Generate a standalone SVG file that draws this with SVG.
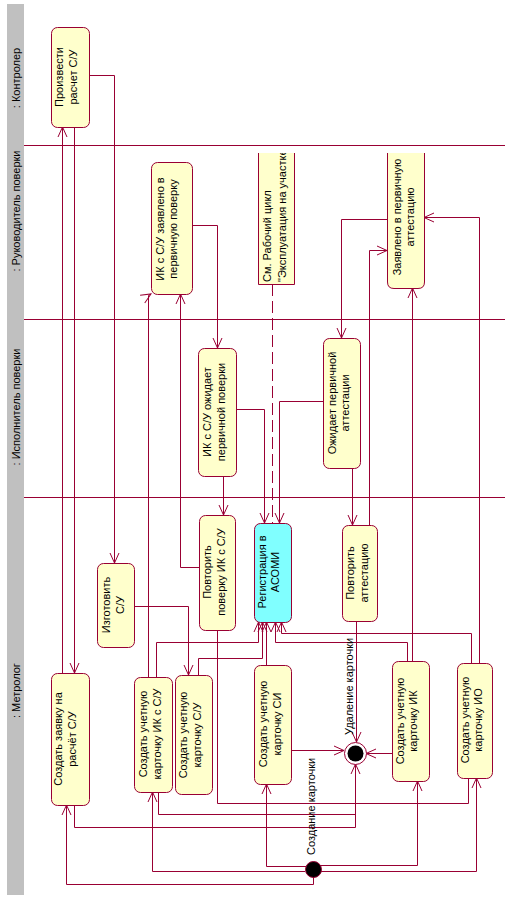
<svg xmlns="http://www.w3.org/2000/svg" width="505" height="900" viewBox="0 0 505 900">
<style>
.lane{fill:#C0C0C0;stroke:none}
.sep{stroke:#990033;stroke-width:1;fill:none}
.n rect{fill:#FFFFCC;stroke:#990033;stroke-width:1}
.n.cy rect{fill:#80FFFF}
text{font-family:"Liberation Sans",Arial,sans-serif;font-size:11px;fill:#000}
.c path{fill:none;stroke:#990033;stroke-width:1}
.c path.a{marker-end:url(#arr)}
.c path.d{stroke-dasharray:12 5}
</style>
<defs>
<marker id="arr" markerUnits="userSpaceOnUse" markerWidth="12" markerHeight="12" viewBox="0 0 12 12" refX="11" refY="6" orient="auto"><path d="M1,1.5 L11,6 L1,10.5" fill="none" stroke="#990033"/></marker>
<clipPath id="clipTop"><rect x="0" y="153" width="505" height="200"/></clipPath>
</defs>
<rect width="505" height="900" fill="#fff"/>
<g id="lanes">
<rect class="lane" x="7" y="4" width="17" height="891"/>
<path class="sep" d="M24,145.5 H505 M24,319.5 H505 M24,497.5 H505"/>
<text transform="translate(20,78) rotate(-90)" text-anchor="middle">: Контролер</text>
<text transform="translate(20,211) rotate(-90)" text-anchor="middle">: Руководитель поверки</text>
<text transform="translate(20,407) rotate(-90)" text-anchor="middle">: Исполнитель поверки</text>
<text transform="translate(20,718) rotate(-90)">: Метролог</text>
</g>
<g id="connectors" class="c">
<path class="a" d="M89,75.5 H114.5 V563"/>
<path class="a" d="M74.5,127 V673"/>
<path class="a" d="M62.5,673 V127"/>
<path class="a" d="M313.5,877 V884.5 H66.5 V805"/>
<path class="a" d="M74.5,805 V827.5 H355.5 V764"/>
<path class="a" d="M305,871.5 H152.5 V792"/>
<path class="a" d="M306,866.5 H266.5 V784"/>
<path d="M158.5,792 V814.5 H355.5 V827"/>
<path class="a" d="M148.5,677 V295.5 L151,294"/>
<path class="a" d="M156.5,677 V642.5 H258.5 V622"/>
<path class="a" d="M134,606.5 H188.5 V675"/>
<path class="a" d="M198.5,675 V658.5 H262.5 V622"/>
<path class="a" d="M266.5,665 V622"/>
<path class="a" d="M291,750.5 H344"/>
<path class="a" d="M392,753.5 H366"/>
<path class="a" d="M412.5,661 V288"/>
<path class="a" d="M407.5,661 V642.5 H275.5 V622"/>
<path class="a" d="M320,865.5 H417.5 V781"/>
<path class="a" d="M321,871.5 H476.5 V778"/>
<path class="a" d="M479.5,663 V217.5 H424"/>
<path class="a" d="M471.5,663 V633.5 H281.5 V622"/>
<path d="M217.5,630 V803.5 H468.5 V778"/>
<path class="a" d="M199,567.5 H180.5 V294"/>
<path class="a" d="M192,225.5 H217.5 V348"/>
<path class="a" d="M223.5,476 V515"/>
<path class="a" d="M236,409.5 H264.5 V523"/>
<path class="a" d="M323,401.5 H279.5 V523"/>
<path class="d" d="M272.5,284 V523"/>
<path class="a" d="M387,219.5 H341.5 V338"/>
<path class="a" d="M352.5,468 V525"/>
<path class="a" d="M369.5,525 V250.5 H387"/>
<path class="a" d="M356.5,621 V742"/>
<text transform="translate(315,855) rotate(-90)">Создание карточки</text>
<text transform="translate(353,735) rotate(-90)">Удаление карточки</text>
</g>
<g id="n_raschet" class="n">
<rect x="51.5" y="27.5" width="38" height="100" rx="6"/>
<text transform="translate(63,77) rotate(-90)" text-anchor="middle">Произвести</text>
<text transform="translate(77,77) rotate(-90)" text-anchor="middle">расчет С/У</text>
</g>
<g id="n_ik_zayavleno" class="n">
<rect x="151.5" y="162.5" width="41" height="132" rx="6"/>
<text transform="translate(164,229) rotate(-90)" text-anchor="middle">ИК с С/У заявлено в</text>
<text transform="translate(177,229) rotate(-90)" text-anchor="middle">первичную поверку</text>
</g>
<g id="n_note" clip-path="url(#clipTop)">
<rect x="258.5" y="140" width="36" height="144.5" fill="#FFFFCC" stroke="none"/>
<path d="M258.5,140 V284.5 H294.5 V140" fill="none" stroke="#990033"/>
<text transform="translate(271,282) rotate(-90)">См. Рабочий цикл</text>
<text transform="translate(286,282) rotate(-90)">"Эксплуатация на участке</text>
</g>
<g id="n_zayavleno_att" clip-path="url(#clipTop)">
<path d="M387.5,140 V282 Q387.5,288.5 394,288.5 H418 Q424.5,288.5 424.5,282 V140 Z" fill="#FFFFCC" stroke="none"/>
<path d="M387.5,140 V282 Q387.5,288.5 394,288.5 H418 Q424.5,288.5 424.5,282 V140" fill="none" stroke="#990033"/>
<text transform="translate(401,217) rotate(-90)" text-anchor="middle">Заявлено в первичную</text>
<text transform="translate(414,217) rotate(-90)" text-anchor="middle">аттестацию</text>
</g>
<g id="n_ik_ozhidaet" class="n">
<rect x="198.5" y="348.5" width="38" height="128" rx="6"/>
<text transform="translate(211,412) rotate(-90)" text-anchor="middle">ИК с С/У ожидает</text>
<text transform="translate(225,412) rotate(-90)" text-anchor="middle">первичной поверки</text>
</g>
<g id="n_ozhidaet_att" class="n">
<rect x="323.5" y="338.5" width="37" height="130" rx="6"/>
<text transform="translate(336,403) rotate(-90)" text-anchor="middle">Ожидает первичной</text>
<text transform="translate(349,403) rotate(-90)" text-anchor="middle">аттестации</text>
</g>
<g id="n_izgotovit" class="n">
<rect x="97.5" y="563.5" width="37" height="84" rx="6"/>
<text transform="translate(110,605) rotate(-90)" text-anchor="middle">Изготовить</text>
<text transform="translate(124,605) rotate(-90)" text-anchor="middle">С/У</text>
</g>
<g id="n_povtorit_pov" class="n">
<rect x="199.5" y="515.5" width="36" height="115" rx="6"/>
<text transform="translate(211,572) rotate(-90)" text-anchor="middle">Повторить</text>
<text transform="translate(225,572) rotate(-90)" text-anchor="middle">поверку ИК с С/У</text>
</g>
<g id="n_registr" class="n cy">
<rect x="254.5" y="523.5" width="37" height="99" rx="6"/>
<text transform="translate(266,572) rotate(-90)" text-anchor="middle">Регистрация в</text>
<text transform="translate(279,572) rotate(-90)" text-anchor="middle">АСОМИ</text>
</g>
<g id="n_povtorit_att" class="n">
<rect x="342.5" y="525.5" width="35" height="96" rx="6"/>
<text transform="translate(354,573) rotate(-90)" text-anchor="middle">Повторить</text>
<text transform="translate(368,573) rotate(-90)" text-anchor="middle">аттестацию</text>
</g>
<g id="n_zayavka" class="n">
<rect x="51.5" y="673.5" width="38" height="132" rx="6"/>
<text transform="translate(62,739) rotate(-90)" text-anchor="middle">Создать заявку на</text>
<text transform="translate(76,739) rotate(-90)" text-anchor="middle">расчёт С/У</text>
</g>
<g id="n_card_iksu" class="n">
<rect x="134.5" y="677.5" width="38" height="115" rx="6"/>
<text transform="translate(147,734) rotate(-90)" text-anchor="middle">Создать учетную</text>
<text transform="translate(161,734) rotate(-90)" text-anchor="middle">карточку ИК с С/У</text>
</g>
<g id="n_card_su" class="n">
<rect x="175.5" y="675.5" width="37" height="119" rx="6"/>
<text transform="translate(187,735) rotate(-90)" text-anchor="middle">Создать учетную</text>
<text transform="translate(201,735) rotate(-90)" text-anchor="middle">карточку С/У</text>
</g>
<g id="n_card_si" class="n">
<rect x="254.5" y="665.5" width="37" height="119" rx="6"/>
<text transform="translate(267,724) rotate(-90)" text-anchor="middle">Создать учетную</text>
<text transform="translate(281,724) rotate(-90)" text-anchor="middle">карточку СИ</text>
</g>
<g id="n_card_ik" class="n">
<rect x="392.5" y="661.5" width="37" height="120" rx="6"/>
<text transform="translate(404,721) rotate(-90)" text-anchor="middle">Создать учетную</text>
<text transform="translate(417,721) rotate(-90)" text-anchor="middle">карточку ИК</text>
</g>
<g id="n_card_io" class="n">
<rect x="457.5" y="663.5" width="35" height="115" rx="6"/>
<text transform="translate(469,720) rotate(-90)" text-anchor="middle">Создать учетную</text>
<text transform="translate(482,720) rotate(-90)" text-anchor="middle">карточку ИО</text>
</g>
<g id="n_final">
<circle cx="355.5" cy="753.5" r="11" fill="#fff" stroke="#990033"/>
<circle cx="355.5" cy="753.5" r="8" fill="#000"/>
</g>
<g id="n_initial">
<circle cx="313.5" cy="869.5" r="8" fill="#000" stroke="#990033"/>
</g>
</svg>
